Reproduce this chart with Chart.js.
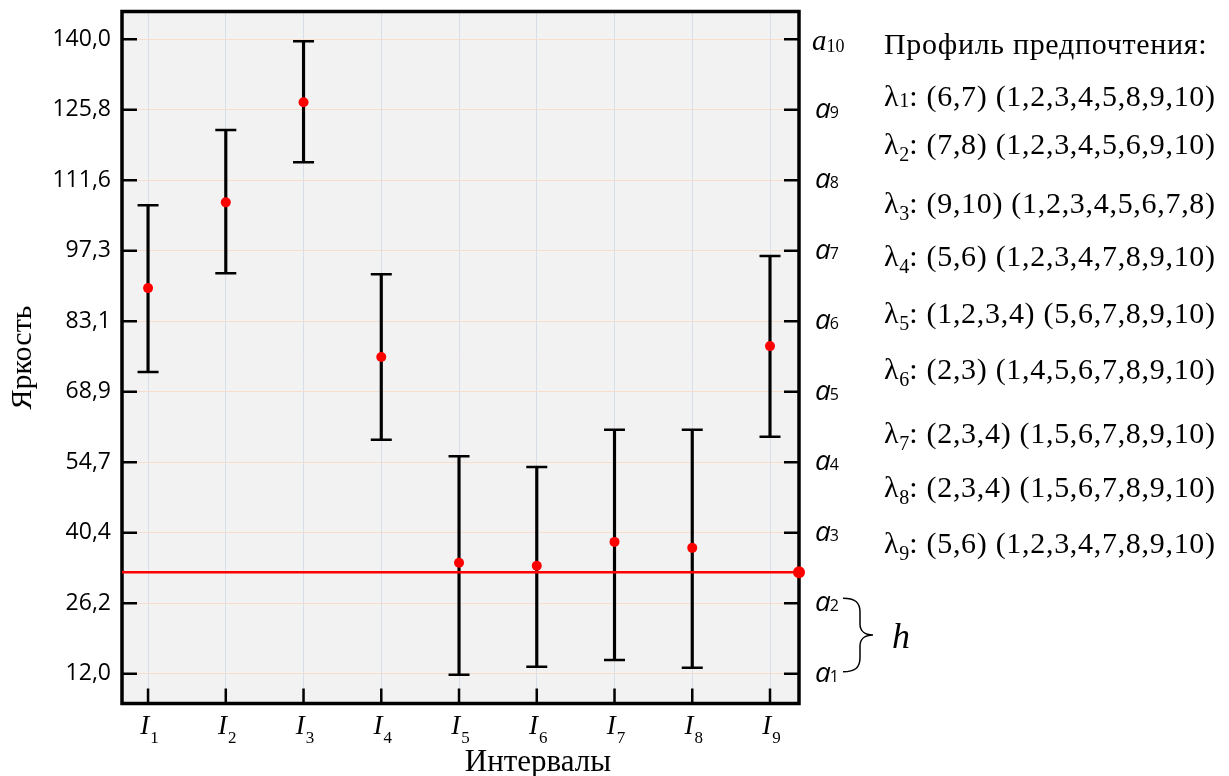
<!DOCTYPE html>
<html>
<head>
<meta charset="utf-8">
<script src="https://cdn.jsdelivr.net/npm/chart.js@4.4.1/dist/chart.umd.min.js"></script>
<style>
  html, body { margin: 0; padding: 0; background: #fff; }
  #wrap { position: relative; width: 1229px; height: 776px; }
  #c { position: absolute; left: 0; top: 0; }
  .pref { position: absolute; left: 884px; font-family: "Liberation Serif", "Times New Roman", serif;
          font-size: 30px; letter-spacing: 0.7px; line-height: 1; white-space: nowrap; color: #000; }
  .pref sub { font-size: 20px; line-height: 0; vertical-align: -7px; letter-spacing: 0; }
  .pref.first sub { vertical-align: -1px; }
</style>
</head>
<body>
<div id="wrap">
  <canvas id="c" width="1229" height="776"></canvas>
  <div id="pref"></div>
</div>
<script>
// interval subscripts I1..I9 and the measured brightness per interval
const intervalNums = ["1", "2", "3", "4", "5", "6", "7", "8", "9"];
const meanValues  = [89.8, 107.1, 127.3, 75.9, 34.4, 33.8, 38.6, 37.4, 78.1];
const upperValues = [106.5, 121.7, 139.6, 92.6, 55.9, 53.7, 61.2, 61.2, 96.3];
const lowerValues = [72.9, 92.8, 115.2, 59.2, 11.8, 13.4, 14.8, 13.2, 59.8];

// level grid a1..a10 (left labels show the values)
const levelValues = [12.0, 26.22, 40.44, 54.67, 68.89, 83.11, 97.33, 111.56, 125.78, 140.0];
const levelLabels = ["12,0", "26,2", "40,4", "54,7", "68,9", "83,1", "97,3", "111,6", "125,8", "140,0"];
const levelNames  = ["1", "2", "3", "4", "5", "6", "7", "8", "9", "10"];
const thresholdValue = 32.5;

// preference profile text
const prefTitle  = "Профиль предпочтения:";
const prefNums   = ["1", "2", "3", "4", "5", "6", "7", "8", "9"];
const prefFirst  = ["(6,7)", "(7,8)", "(9,10)", "(5,6)", "(1,2,3,4)", "(2,3)", "(2,3,4)", "(2,3,4)", "(5,6)"];
const prefSecond = ["(1,2,3,4,5,8,9,10)", "(1,2,3,4,5,6,9,10)", "(1,2,3,4,5,6,7,8)", "(1,2,3,4,7,8,9,10)",
                    "(5,6,7,8,9,10)", "(1,4,5,6,7,8,9,10)", "(1,5,6,7,8,9,10)", "(1,5,6,7,8,9,10)", "(1,2,3,4,7,8,9,10)"];

// layout only: baselines of the profile rows
const prefBaselines = [54, 106, 154, 213, 266, 323, 379, 443, 497, 553];

const X_MIN = 0.665, X_MAX = 9.373;
const xs = intervalNums.map((_, i) => i + 1);

(function buildPref() {
  const box = document.getElementById("pref");
  const row = (html, base, cls) => {
    const d = document.createElement("div");
    d.className = "pref" + (cls ? " " + cls : "");
    d.style.top = (base - 25) + "px";
    d.innerHTML = html;
    box.appendChild(d);
  };
  row(prefTitle, prefBaselines[0]);
  prefNums.forEach((n, i) =>
    row(`λ<sub>${n}</sub>: ${prefFirst[i]} ${prefSecond[i]}`, prefBaselines[i + 1], i === 0 ? "first" : ""));
})();

const decor = {
  id: "decor",
  beforeDraw(c) {
    const { ctx, chartArea: a } = c;
    ctx.save();
    ctx.fillStyle = "#f2f2f2";
    ctx.fillRect(a.left, a.top, a.width, a.height);
    ctx.restore();
  },
  beforeDatasetsDraw(c) {
    const { ctx, chartArea: a, scales: { x, y } } = c;
    ctx.save();
    ctx.strokeStyle = "#000";
    ctx.lineWidth = 2.5;
    ctx.beginPath();
    levelValues.forEach(v => {
      const py = y.getPixelForValue(v);
      ctx.moveTo(a.left, py); ctx.lineTo(a.left + 15, py);
      ctx.moveTo(a.right, py); ctx.lineTo(a.right - 15, py);
    });
    xs.forEach(v => {
      const px = x.getPixelForValue(v);
      ctx.moveTo(px, a.bottom); ctx.lineTo(px, a.bottom - 15);
    });
    ctx.stroke();
    ctx.lineWidth = 3.5;
    ctx.strokeRect(a.left, a.top, a.width, a.height);
    ctx.restore();
  },
  afterDraw(c) {
    const { ctx, chartArea: a, scales: { x, y } } = c;
    ctx.save();
    ctx.fillStyle = "#000";
    ctx.textBaseline = "alphabetic";
    ctx.textAlign = "left";
    // I_n labels under the axis
    xs.forEach((v, i) => {
      const px = x.getPixelForValue(v);
      ctx.font = 'italic 27px "Liberation Serif"';
      const wI = ctx.measureText("I").width;
      ctx.font = '17px "Liberation Serif"';
      const wS = ctx.measureText(intervalNums[i]).width;
      const x0 = px - (wI + wS) / 2 + 1;
      ctx.font = 'italic 27px "Liberation Serif"';
      ctx.fillText("I", x0, a.bottom + 30);
      ctx.font = '17px "Liberation Serif"';
      ctx.fillText(intervalNums[i], x0 + wI + 1, a.bottom + 39);
    });
    // axis title, set to the right of centre as in the source
    ctx.font = '31px "Liberation Serif"';
    ctx.textAlign = "center";
    ctx.fillText("Интервалы", 538, 771);
    ctx.textAlign = "left";
    // a_n labels on the right
    levelValues.forEach((v, i) => {
      const py = y.getPixelForValue(v);
      const lx = a.right + 16;
      if (levelNames[i].length > 1) {
        ctx.font = 'italic 29px "Liberation Serif"';
        ctx.fillText("a", lx - 3, py + 11);
        const w = ctx.measureText("a").width;
        ctx.font = '18px "Liberation Serif"';
        ctx.fillText(levelNames[i], lx - 3 + w, py + 13);
      } else {
        ctx.font = 'italic 28px "Open Sans"';
        ctx.fillText("a", lx, py + 8);
        const w = ctx.measureText("a").width;
        ctx.font = '16px "Open Sans"';
        ctx.fillText(levelNames[i], lx + w - 1, py + 8);
      }
    });
    // brace between a1 and a2 with h
    const t = y.getPixelForValue(levelValues[1]) - 5;
    const b = y.getPixelForValue(levelValues[0]) - 2;
    const m = (t + b) / 2;
    const x0 = a.right + 44, xv = a.right + 61, xt = a.right + 74;
    ctx.strokeStyle = "#000";
    ctx.lineWidth = 1.5;
    ctx.beginPath();
    ctx.moveTo(x0, t);
    ctx.bezierCurveTo(xv - 5, t, xv, t + 4, xv, t + 14);
    ctx.lineTo(xv, m - 11);
    ctx.bezierCurveTo(xv, m - 3, xv + 6, m, xt, m);
    ctx.bezierCurveTo(xv + 6, m, xv, m + 3, xv, m + 11);
    ctx.lineTo(xv, b - 14);
    ctx.bezierCurveTo(xv, b - 4, xv - 5, b, x0, b);
    ctx.stroke();
    ctx.font = 'italic 36px "Liberation Serif"';
    ctx.fillText("h", a.right + 93, m + 13);
    ctx.restore();
  }
};

new Chart(document.getElementById("c"), {
  type: "scatter",
  data: {
    datasets: [
      {
        type: "bar",
        data: xs.map((v, i) => ({ x: v, y: [lowerValues[i], upperValues[i]] })),
        backgroundColor: "#000",
        barThickness: 2.5,
        order: 3
      },
      {
        type: "scatter",
        data: [...xs.map((v, i) => ({ x: v, y: upperValues[i] })), ...xs.map((v, i) => ({ x: v, y: lowerValues[i] }))],
        pointStyle: "line",
        pointRadius: 10.5,
        borderColor: "#000",
        borderWidth: 2.5,
        order: 2
      },
      {
        type: "line",
        data: [{ x: X_MIN, y: thresholdValue }, { x: X_MAX, y: thresholdValue }],
        borderColor: "#ff0000",
        borderWidth: 2.5,
        pointRadius: [0, 6],
        pointBackgroundColor: "#ff0000",
        pointBorderWidth: 0,
        clip: false,
        order: 1
      },
      {
        type: "scatter",
        data: xs.map((v, i) => ({ x: v, y: meanValues[i] })),
        pointRadius: 5,
        backgroundColor: "#ff0000",
        borderWidth: 0,
        order: 0
      }
    ]
  },
  options: {
    responsive: false,
    animation: false,
    events: [],
    layout: { autoPadding: false, padding: { top: 11.5, right: 430, left: 0, bottom: 0 } },
    plugins: { legend: { display: false }, tooltip: { enabled: false } },
    scales: {
      x: {
        type: "linear",
        min: X_MIN, max: X_MAX,
        offset: false,
        afterBuildTicks: ax => { ax.ticks = xs.map(v => ({ value: v })); },
        ticks: { display: false },
        grid: { color: "#d7dde9", lineWidth: 1, drawTicks: false, offset: false },
        border: { display: false },
        afterFit: s => { s.height = 72.5; s.paddingLeft = 0; s.paddingRight = 0; }
      },
      y: {
        type: "linear",
        min: 6.0, max: 145.6,
        afterBuildTicks: ax => { ax.ticks = levelValues.map(v => ({ value: v })); },
        ticks: { autoSkip: false, callback: (v, i) => levelLabels[i], color: "#000",
                 font: { family: "Open Sans", size: 23 }, padding: 11 },
        grid: { color: "#f6ddcc", lineWidth: 1, drawTicks: false },
        border: { display: false },
        title: { display: true, text: "Яркость", color: "#000",
                 font: { family: "Liberation Serif", size: 30, lineHeight: 1 }, padding: { top: 8, bottom: 0 } },
        afterFit: s => { s.width = 122; s.paddingTop = 0; s.paddingBottom = 0; }
      }
    }
  },
  plugins: [decor]
});
</script>
</body>
</html>
